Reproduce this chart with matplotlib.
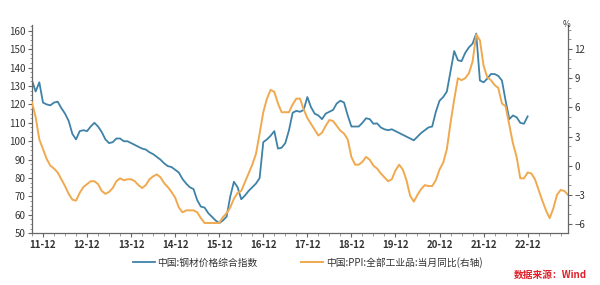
import numpy as np
import matplotlib
matplotlib.use("Agg")
import matplotlib.pyplot as plt
from matplotlib.ticker import MultipleLocator

plt.rcParams['font.family'] = ['Noto Sans CJK SC', 'DejaVu Sans']

# monthly data, starting 2011-09
steel = [133, 127, 132, 121, 120, 119.5, 121, 121.5, 118, 115, 111, 104,
         101, 105.5, 106, 105.5, 108, 110, 108, 105, 101, 99, 99.5, 101.5,
         101.5, 100, 100, 99, 98, 97, 96, 95.5, 94, 93, 91.5, 90,
         88, 86.5, 86, 84.5, 83, 79.5, 77, 75, 74, 68, 64.5, 64,
         61, 59, 57, 55.5, 57, 59, 70, 78, 75, 68.5, 70.5, 73,
         75, 77, 80, 99.5, 101, 103, 105.5, 96, 96.5, 99, 106, 115.5,
         116.5, 116, 117, 124, 118.5, 115, 114, 112, 115, 116, 117, 120.5,
         122, 121, 114, 108, 108, 108, 110, 112.5, 112, 109.5, 109.7, 107.5,
         106.5, 106, 106.5, 105.5, 104.5, 103.5, 102.5, 101.5, 100.5, 102.5, 104.5, 106,
         107.5, 108, 116, 122, 124, 127, 138, 149, 144, 143.5, 148, 151,
         153, 158.5, 133, 132, 134, 136.5, 136.5, 135.5, 133, 122, 112, 114,
         113, 110, 109.5, 113.5]

ppi = [6.5, 5.0, 2.7, 1.7,
       0.7, 0.0, -0.3, -0.7, -1.4, -2.1, -2.9, -3.5, -3.6, -2.8, -2.2, -1.9,
       -1.6, -1.6, -1.9, -2.6, -2.9, -2.7, -2.3, -1.6, -1.3, -1.5, -1.4, -1.4,
       -1.6, -2.0, -2.3, -2.0, -1.4, -1.1, -0.9, -1.2, -1.8, -2.2, -2.7, -3.3,
       -4.3, -4.8, -4.6, -4.6, -4.6, -4.8, -5.4, -5.9, -5.9, -5.9, -5.9, -5.9,
       -5.3, -4.9, -4.3, -3.4, -2.8, -2.6, -1.7, -0.8, 0.1, 1.2, 3.3, 5.5,
       6.9, 7.8, 7.6, 6.4, 5.5, 5.5, 5.5, 6.3, 6.9, 6.9, 5.8, 4.9,
       4.3, 3.7, 3.1, 3.4, 4.1, 4.7, 4.6, 4.1, 3.6, 3.3, 2.7, 0.9,
       0.1, 0.1, 0.4, 0.9, 0.6, 0.0, -0.3, -0.8, -1.2, -1.6, -1.4, -0.5,
       0.1, -0.4, -1.5, -3.1, -3.7, -3.0, -2.4, -2.0, -2.1, -2.1, -1.5, -0.4,
       0.3, 1.7, 4.4, 6.8, 9.0, 8.8, 9.0, 9.5, 10.7, 13.5, 12.9, 10.3,
       9.1, 8.8, 8.3, 8.0, 6.4, 6.1, 4.2, 2.3, 0.9, -1.3, -1.3, -0.7,
       -0.8, -1.4, -2.5, -3.6, -4.6, -5.4, -4.4, -3.0, -2.5, -2.6, -3.0]

year_labels = ["11-12", "12-12", "13-12", "14-12", "15-12", "16-12",
               "17-12", "18-12", "19-12", "20-12", "21-12", "22-12"]

blue = "#3f82a8"
orange = "#f0a94e"

fig = plt.figure(figsize=(6, 2.85), dpi=100)
ax = fig.add_axes([0.0533, 0.1814, 0.8934, 0.73])
ax2 = ax.twinx()

l1, = ax.plot(np.arange(len(steel)), steel, color=blue, lw=1.3)
l2, = ax2.plot(np.arange(len(ppi)), ppi, color=orange, lw=1.4)

ax.set_xlim(0, len(ppi) - 1)
ax.set_ylim(50, 163)
ax2.set_ylim(-6.96, 14.45)

ax.set_yticks(np.arange(50, 161, 10))
ax.yaxis.set_minor_locator(MultipleLocator(2.5))
ax2.set_yticks(np.arange(-6, 13, 3))
ax2.yaxis.set_minor_locator(MultipleLocator(1))

ax.set_xticks(np.arange(3, len(ppi), 12))
ax.set_xticklabels(year_labels, fontweight="bold")
ax.xaxis.set_minor_locator(MultipleLocator(3))

for a in (ax, ax2):
    a.spines["top"].set_visible(False)
    for s in ("left", "right", "bottom"):
        a.spines[s].set_color("#666666")
        a.spines[s].set_linewidth(0.9)
    a.tick_params(which="major", length=3, width=0.8, color="#666666",
                  labelsize=7, labelcolor="#333333", pad=1.5)
    a.tick_params(which="minor", length=1.8, width=0.6, color="#888888")
ax.spines["right"].set_visible(False)
ax2.spines["left"].set_visible(False)
ax2.spines["bottom"].set_visible(False)

fig.text(0.944, 0.905, "%", fontsize=6, color="#333333", ha="center")

fig.legend([l1, l2], ["中国:钢材价格综合指数", "中国:PPI:全部工业品:当月同比(右轴)"],
           loc="center", bbox_to_anchor=(0.513, 0.08), ncol=2, frameon=False,
           fontsize=7, handlelength=2.2, handletextpad=0.3, columnspacing=4.5,
           labelcolor="#333333")

fig.text(0.978, 0.025, "数据来源：Wind", fontsize=7, color="#e0202a",
         ha="right", fontweight="bold", style="italic")

fig.savefig("out.png", dpi=100, facecolor="white")
